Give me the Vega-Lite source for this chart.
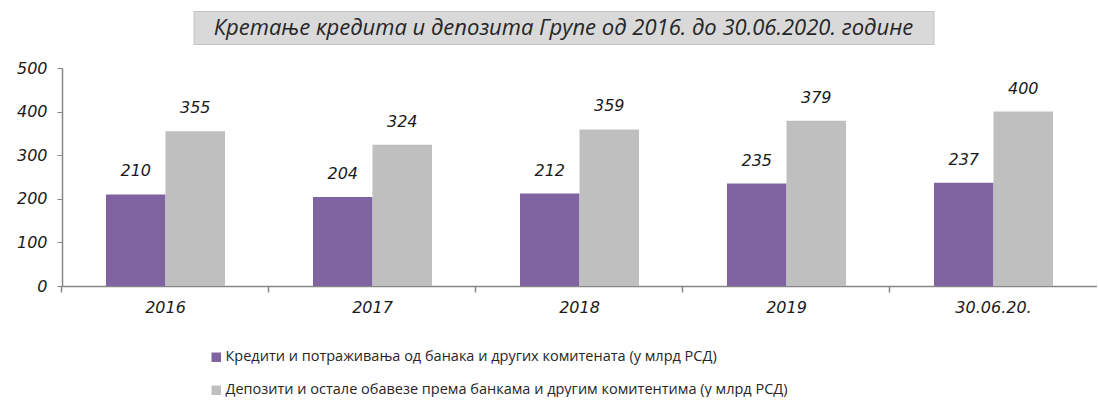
{
  "$schema": "https://vega.github.io/schema/vega-lite/v6.json",
  "padding": {"left": 16, "top": 10, "right": 0, "bottom": 0},
  "background": "white",
  "bounds": "full",
  "center": true,
  "spacing": 15,
  "config": {"view": {"stroke": null}, "font": "DejaVu Sans"},
  "vconcat": [
    {
      "spacing": 10,
      "hconcat": [
        {
          "width": 740,
          "height": 33,
          "view": {"fill": "#d9d9d9", "stroke": "#c4c4c4"},
          "data": {"values": [{"title": "Кретање кредита и депозита Групе од  2016. до 30.06.2020. године"}]},
          "mark": {"type": "text", "font": "Open Sans", "fontStyle": "italic", "fontSize": 22, "color": "#262626", "align": "center", "baseline": "middle"},
          "encoding": {"text": {"field": "title", "type": "nominal"}}
        },
        {
          "width": 21,
          "height": 33,
          "data": {"values": [{"blank": ""}]},
          "mark": {"type": "text"},
          "encoding": {"text": {"field": "blank", "type": "nominal"}}
        }
      ]
    },
    {
      "width": 1035,
      "height": 218,
      "data": {
        "values": [
          {"period": "2016", "series": "Кредити и потраживања од банака и других комитената (у млрд РСД)", "value": 210},
          {"period": "2016", "series": "Депозити и остале обавезе према банкама и другим комитентима (у млрд РСД)", "value": 355},
          {"period": "2017", "series": "Кредити и потраживања од банака и других комитената (у млрд РСД)", "value": 204},
          {"period": "2017", "series": "Депозити и остале обавезе према банкама и другим комитентима (у млрд РСД)", "value": 324},
          {"period": "2018", "series": "Кредити и потраживања од банака и других комитената (у млрд РСД)", "value": 212},
          {"period": "2018", "series": "Депозити и остале обавезе према банкама и другим комитентима (у млрд РСД)", "value": 359},
          {"period": "2019", "series": "Кредити и потраживања од банака и других комитената (у млрд РСД)", "value": 235},
          {"period": "2019", "series": "Депозити и остале обавезе према банкама и другим комитентима (у млрд РСД)", "value": 379},
          {"period": "30.06.20.", "series": "Кредити и потраживања од банака и других комитената (у млрд РСД)", "value": 237},
          {"period": "30.06.20.", "series": "Депозити и остале обавезе према банкама и другим комитентима (у млрд РСД)", "value": 400}
        ]
      },
      "resolve": {"axis": {"x": "independent"}},
      "layer": [
        {
          "mark": {"type": "bar"},
          "encoding": {
            "x": {
              "field": "period", "type": "nominal", "sort": null,
              "scale": {"paddingInner": 0.425, "paddingOuter": 0.2125},
              "axis": {"orient": "bottom", "title": null, "labelAngle": 0, "ticks": false, "tickSize": 0, "labelFont": "DejaVu Sans", "labelFontStyle": "italic", "labelFontSize": 16, "labelColor": "#1a1a1a", "labelPadding": 13, "domainColor": "#868686", "domainWidth": 1.5}
            },
            "xOffset": {
              "field": "series", "type": "nominal",
              "sort": ["Кредити и потраживања од банака и других комитената (у млрд РСД)", "Депозити и остале обавезе према банкама и другим комитентима (у млрд РСД)"],
              "scale": {"paddingInner": 0, "paddingOuter": 0}
            },
            "y": {
              "field": "value", "type": "quantitative",
              "scale": {"domain": [0, 500]},
              "axis": {"title": null, "values": [0, 100, 200, 300, 400, 500], "grid": false, "labelFont": "DejaVu Sans", "labelFontStyle": "italic", "labelFontSize": 16, "labelColor": "#1a1a1a", "labelPadding": 10, "tickSize": 5, "tickColor": "#868686", "domainColor": "#868686", "domainWidth": 1.5}
            },
            "color": {
              "field": "series", "type": "nominal",
              "sort": ["Кредити и потраживања од банака и других комитената (у млрд РСД)", "Депозити и остале обавезе према банкама и другим комитентима (у млрд РСД)"],
              "scale": {"range": ["#8064a2", "#bfbfbf"]},
              "legend": {"orient": "none", "legendX": 147, "legendY": 339, "direction": "vertical", "title": null, "symbolType": "square", "symbolSize": 90, "symbolStrokeWidth": 0, "labelFont": "Open Sans", "labelFontSize": 14.5, "labelColor": "#262626", "labelLimit": 0, "labelOffset": 2, "rowPadding": 18}
            }
          }
        },
        {
          "mark": {"type": "text", "font": "DejaVu Sans", "fontStyle": "italic", "fontSize": 16, "color": "#1a1a1a", "baseline": "bottom", "dy": -15},
          "encoding": {
            "x": {
              "field": "period", "type": "nominal", "sort": null,
              "axis": {"orient": "bottom", "title": null, "labels": false, "domain": false, "ticks": true, "tickSize": 6, "tickColor": "#868686", "tickWidth": 1.5, "bandPosition": -0.372}
            },
            "xOffset": {
              "field": "series", "type": "nominal",
              "sort": ["Кредити и потраживања од банака и других комитената (у млрд РСД)", "Депозити и остале обавезе према банкама и другим комитентима (у млрд РСД)"]
            },
            "y": {"field": "value", "type": "quantitative"},
            "text": {"field": "value", "type": "quantitative"}
          }
        }
      ]
    }
  ]
}
